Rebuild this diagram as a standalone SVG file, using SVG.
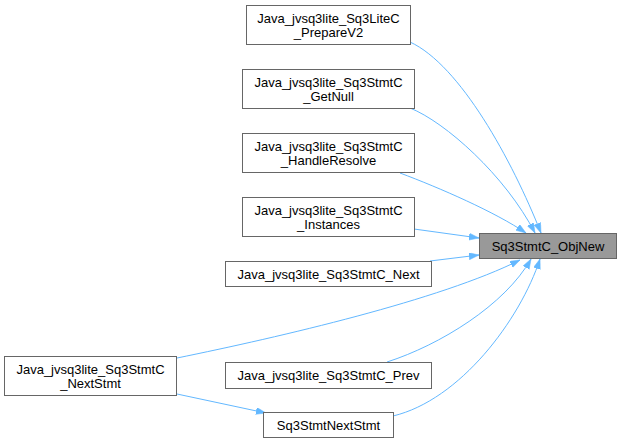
<svg xmlns="http://www.w3.org/2000/svg" width="623" height="443" viewBox="0 0 623 443">
<style>
.box{fill:#ffffff;stroke:#666666;stroke-width:1}
.main{fill:#999999;stroke:#666666;stroke-width:1}
.lbl{font-family:"Liberation Sans",Arial,sans-serif;font-size:13px;fill:#000000;text-anchor:middle}
.edge{fill:none;stroke:#63b8ff;stroke-width:1;marker-end:url(#arr)}
</style>
<defs>
<marker id="arr" markerUnits="userSpaceOnUse" markerWidth="11" markerHeight="8" refX="10" refY="3.5" orient="auto">
<path d="M0,0 L10,3.5 L0,7 z" fill="#63b8ff" stroke="#63b8ff" stroke-width="0.5"/>
</marker>
</defs>
<rect width="623" height="443" fill="#ffffff"/>
<g id="edges">
<path class="edge" d="M410,42 C460,65 512,160 541,233"/>
<path class="edge" d="M410,108 C445,122 505,175 535,233"/>
<path class="edge" d="M400,173 C440,188 495,212 526,233"/>
<path class="edge" d="M414,229 L479,238"/>
<path class="edge" d="M430,261 L479,255"/>
<path class="edge" d="M177,358 C280,337 440,300 520,260"/>
<path class="edge" d="M387,362 C440,345 505,305 531,259"/>
<path class="edge" d="M393,416 C460,400 520,320 540,259"/>
<path class="edge" d="M177,394 L266,413"/>
</g>
<g id="node_objnew">
<rect class="main" x="479.5" y="233.5" width="137" height="25"/>
<text class="lbl" x="548" y="251">Sq3StmtC_ObjNew</text>
</g>
<g id="node_preparev2">
<rect class="box" x="246.5" y="5.5" width="164" height="39"/>
<text class="lbl" x="328.5" y="23">Java_jvsq3lite_Sq3LiteC</text>
<text class="lbl" x="328.5" y="37">_PrepareV2</text>
</g>
<g id="node_getnull">
<rect class="box" x="242.5" y="69.5" width="172" height="39"/>
<text class="lbl" x="328.5" y="87">Java_jvsq3lite_Sq3StmtC</text>
<text class="lbl" x="328.5" y="101">_GetNull</text>
</g>
<g id="node_handleresolve">
<rect class="box" x="242.5" y="133.5" width="172" height="39"/>
<text class="lbl" x="328.5" y="151">Java_jvsq3lite_Sq3StmtC</text>
<text class="lbl" x="328.5" y="165">_HandleResolve</text>
</g>
<g id="node_instances">
<rect class="box" x="242.5" y="197.5" width="172" height="39"/>
<text class="lbl" x="328.5" y="215">Java_jvsq3lite_Sq3StmtC</text>
<text class="lbl" x="328.5" y="229">_Instances</text>
</g>
<g id="node_next">
<rect class="box" x="225.5" y="261.5" width="206" height="25"/>
<text class="lbl" x="328.5" y="279">Java_jvsq3lite_Sq3StmtC_Next</text>
</g>
<g id="node_nextstmt_java">
<rect class="box" x="4.5" y="356.5" width="172" height="39"/>
<text class="lbl" x="90.5" y="374">Java_jvsq3lite_Sq3StmtC</text>
<text class="lbl" x="90.5" y="388">_NextStmt</text>
</g>
<g id="node_prev">
<rect class="box" x="225.5" y="362.5" width="206" height="26"/>
<text class="lbl" x="328.5" y="380">Java_jvsq3lite_Sq3StmtC_Prev</text>
</g>
<g id="node_sq3stmtnextstmt">
<rect class="box" x="263.5" y="412.5" width="130" height="25"/>
<text class="lbl" x="328.5" y="430">Sq3StmtNextStmt</text>
</g>
</svg>
